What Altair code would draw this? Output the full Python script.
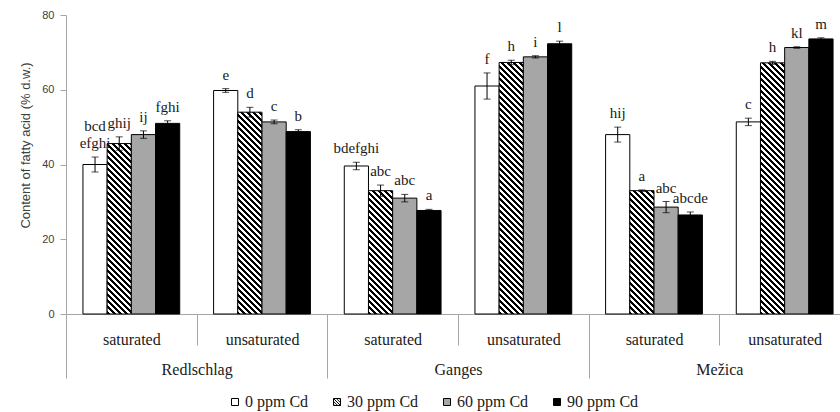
import altair as alt

# ---------------- data ----------------
locations = ["Redlschlag", "Ganges", "Mežica"]
acid_types = ["saturated", "unsaturated"]
treatments = ["0 ppm Cd", "30 ppm Cd", "60 ppm Cd", "90 ppm Cd"]

# values per treatment, in group order:
# Redlschlag sat, Redlschlag unsat, Ganges sat, Ganges unsat, Mežica sat, Mežica unsat
cd0 = [40.0, 59.8, 39.6, 61.0, 48.0, 51.4]
cd30 = [45.6, 54.0, 33.0, 67.3, 33.0, 67.2]
cd60 = [48.0, 51.4, 31.0, 68.8, 28.6, 71.3]
cd90 = [51.0, 48.8, 27.7, 72.3, 26.5, 73.6]

err0 = [2.0, 0.5, 1.0, 3.5, 2.0, 1.0]
err30 = [1.8, 1.3, 1.5, 0.6, 0.2, 0.4]
err60 = [1.0, 0.5, 1.0, 0.3, 1.5, 0.2]
err90 = [0.7, 0.5, 0.3, 0.7, 0.8, 0.3]

let0 = ["bcd\nefghi", "e", "bdefghi", "f", "hij", "c"]
let30 = ["ghij", "d", "abc", "h", "a", "h"]
let60 = ["ij", "c", "abc", "i", "abc", "kl"]
let90 = ["fghi", "b", "a", "l", "abcde", "m"]

values = [cd0, cd30, cd60, cd90]
errors = [err0, err30, err60, err90]
letters = [let0, let30, let60, let90]

# ---------------- layout constants ----------------
PLOT_H = 299
VIS_W = 774          # visible plot width (canvas is clipped at 840 px)
FULL_W = 784         # full category range (last group runs past the edge)
Y_MAX = 80
OUTER_PAD = 0.7
SERIF = "Liberation Serif"
SANS = "Liberation Sans"
GRAY_LINE = "#a6a6a6"
TEXT = "#1a1a1a"
LINE_H = 17

groups = [f"{loc}|{acid}" for loc in locations for acid in acid_types]
base_fill = {"0 ppm Cd": "white", "60 ppm Cd": "#a6a6a6", "90 ppm Cd": "black"}

band = FULL_W / len(groups)
bar_w = band / (len(treatments) + 2 * OUTER_PAD)


def hatch(v):
    """Diagonal (\\) stripes as a linear gradient in the bar's bounding box."""
    h = v / Y_MAX * PLOT_H
    w = bar_w
    den = w * w + h * h
    period = 6.0
    umax = w + h
    stops = []
    u = 0.0
    while u < umax:
        t0 = min(1.0, w * u / den)
        t1 = min(1.0, w * min(u + period * 0.5, umax) / den)
        t2 = min(1.0, w * min(u + period, umax) / den)
        stops += [
            {"offset": round(t0, 5), "color": "black"},
            {"offset": round(t1, 5), "color": "black"},
            {"offset": round(t1, 5), "color": "white"},
            {"offset": round(t2, 5), "color": "white"},
        ]
        u += period
    return {"gradient": "linear", "x1": 0, "y1": 1, "x2": 1, "y2": 1 - h / w,
            "stops": stops}


rows = []
for ti, t in enumerate(treatments):
    for gi, g in enumerate(groups):
        v = values[ti][gi]
        e = errors[ti][gi]
        parts = letters[ti][gi].split("\n")
        rows.append({
            "group": g,
            "location": g.split("|")[0],
            "treatment": t,
            "value": v,
            "lo": v - e,
            "hi": v + e,
            "letter_low": parts[-1],
            "letter_up": parts[0] if len(parts) > 1 else "",
            "grad": base_fill[t] if t in base_fill else hatch(v),
        })

data = alt.Data(values=rows)

y_title = "Content of fatty acid (% d.w.)"
y_axis = alt.Axis(
    values=[0, 20, 40, 60, 80], grid=False, tickSize=6,
    domainColor=GRAY_LINE, tickColor=GRAY_LINE,
    labelFont=SANS, labelFontSize=11, labelColor="#404040", labelPadding=6,
    title=y_title, titleFont=SANS, titleFontSize=13, titleFontWeight="normal",
    titleColor="#404040", titleX=-41, titleY=130, titleBaseline="middle",
)
y_scale = alt.Scale(domain=[0, Y_MAX])

x_axis = alt.Axis(
    title=None, orient="bottom", labelAngle=0,
    labelExpr="split(datum.label, '|')[1]",
    domainColor=GRAY_LINE, tickColor=GRAY_LINE, tickSize=31, tickBand="extent",
    labelFont=SERIF, labelFontSize=16, labelColor=TEXT, labelPadding=-14,
)
x_enc = alt.X("group:N", sort=groups, axis=x_axis,
              scale=alt.Scale(paddingInner=0, paddingOuter=0, range=[0, FULL_W]))
xo_enc = alt.XOffset("treatment:N", sort=treatments,
                     scale=alt.Scale(paddingInner=0, paddingOuter=OUTER_PAD))

base = alt.Chart(data)

bars = base.mark_bar(stroke="black", strokeWidth=1).encode(
    x=x_enc, xOffset=xo_enc,
    y=alt.Y("value:Q", scale=y_scale, axis=y_axis, title=y_title),
    fill=alt.Fill("grad:N", scale=None),
)

err_rule = base.mark_rule(color="black", strokeWidth=1).encode(
    x=x_enc, xOffset=xo_enc,
    y=alt.Y("lo:Q", scale=y_scale, axis=y_axis, title=y_title),
    y2="hi:Q",
)
cap_lo = base.mark_tick(color="black", thickness=1, size=7).encode(
    x=x_enc, xOffset=xo_enc,
    y=alt.Y("lo:Q", scale=y_scale, axis=y_axis, title=y_title),
)
cap_hi = base.mark_tick(color="black", thickness=1, size=7).encode(
    x=x_enc, xOffset=xo_enc,
    y=alt.Y("hi:Q", scale=y_scale, axis=y_axis, title=y_title),
)
labels_low = base.mark_text(
    baseline="bottom", dy=-6, font=SERIF, fontSize=15, color=TEXT, fill=TEXT,
).encode(
    x=x_enc, xOffset=xo_enc,
    y=alt.Y("hi:Q", scale=y_scale, axis=y_axis, title=y_title),
    text="letter_low:N",
)
labels_up = base.mark_text(
    baseline="bottom", dy=-6 - LINE_H, font=SERIF, fontSize=15, color=TEXT, fill=TEXT,
).encode(
    x=x_enc, xOffset=xo_enc,
    y=alt.Y("hi:Q", scale=y_scale, axis=y_axis, title=y_title),
    text="letter_up:N",
)

inner = alt.layer(bars, err_rule, cap_lo, cap_hi, labels_low, labels_up)

loc_axis = alt.Axis(
    title=None, orient="bottom", labelAngle=0, domain=False,
    tickColor=GRAY_LINE, tickSize=64, tickBand="extent",
    labelFont=SERIF, labelFontSize=16, labelColor=TEXT, labelPadding=-17,
)
loc_layer = base.mark_point(opacity=0).encode(
    x=alt.X("location:N", sort=locations, axis=loc_axis,
            scale=alt.Scale(paddingInner=0, paddingOuter=0, range=[0, FULL_W])),
)

hatch_path = ("M-1,-1H1V1H-1Z M-1,-1L1,1 M-1,-0.2L0.2,1 M-0.2,-1L1,0.2 "
              "M-1,0.6L-0.6,1 M0.6,-1L1,-0.6")
leg = alt.Legend(
    title=None, orient="none", legendX=161, legendY=379, direction="horizontal",
    symbolSize=49, symbolStrokeColor="black", symbolStrokeWidth=1,
    symbolOpacity=1, labelFont=SERIF, labelFontSize=16, labelColor=TEXT,
    labelOffset=2, columnPadding=20, padding=0,
)
legend_layer = alt.Chart(alt.Data(values=[{"treatment": t} for t in treatments])).mark_point(
    opacity=0, filled=True
).encode(
    fill=alt.Fill("treatment:N", sort=treatments, legend=leg,
                  scale=alt.Scale(domain=treatments,
                                  range=["white", "white", "#a6a6a6", "black"])),
    shape=alt.Shape("treatment:N", sort=treatments, legend=leg,
                    scale=alt.Scale(domain=treatments,
                                    range=["square", hatch_path, "square", "square"])),
)

chart = alt.layer(inner, loc_layer, legend_layer).resolve_scale(
    x="independent"
).resolve_axis(x="independent").properties(
    width=VIS_W, height=PLOT_H,
    padding={"left": 66, "top": 15, "right": 0, "bottom": 412 - 15 - PLOT_H},
    autosize=alt.AutoSizeParams(type="none"),
    background="white",
).configure_view(stroke=None)

chart.save("out.html", embed_options={"renderer": "svg", "actions": False})
